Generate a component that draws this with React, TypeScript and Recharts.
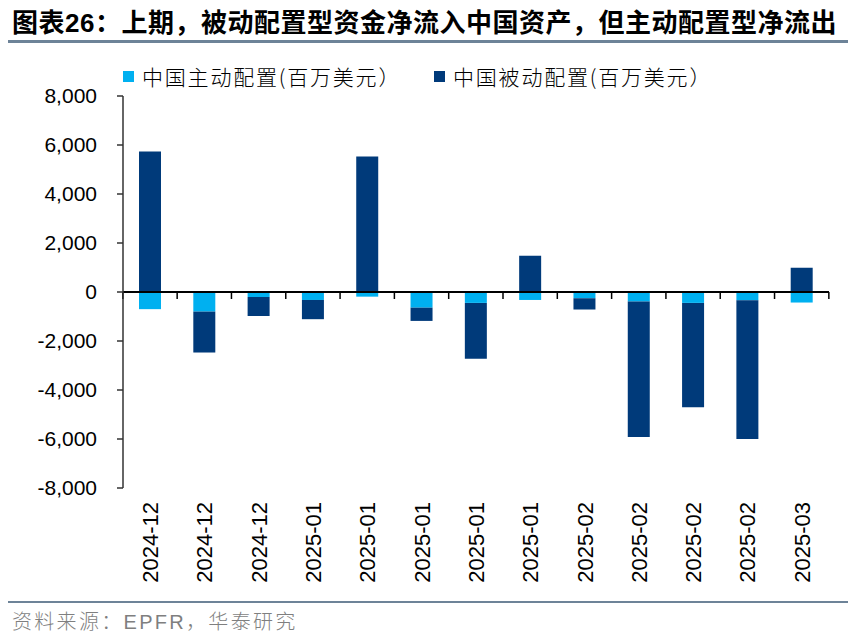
import { BarChart, Bar, XAxis, YAxis, ReferenceLine, Rectangle } from 'recharts';

// 周度资金流（百万美元）
const categories = [
    '2024-12', '2024-12', '2024-12', '2025-01', '2025-01', '2025-01', '2025-01',
    '2025-01', '2025-02', '2025-02', '2025-02', '2025-02', '2025-03',
];
const activeFlow = [-700, -800, -200, -325, -190, -640, -445, -325, -255, -390, -445, -340, -430];
const passiveFlow = [5730, -1670, -775, -785, 5530, -540, -2275, 1480, -460, -5530, -4255, -5660, 990];
const yTicks = [-8000, -6000, -4000, -2000, 0, 2000, 4000, 6000, 8000];
const seriesNames = ['中国主动配置(百万美元）', '中国被动配置(百万美元）'];
const seriesColors = ['#00B0F0', '#003A7A'];

const data = categories.map((c, i) => ({
    key: i,
    active: activeFlow[i],
    passive: passiveFlow[i],
}));

const W = 861;
const H = 643;
const MARGIN = { top: 96, right: 32, bottom: 0, left: 0 };
const Y_AXIS_W = 123;
const BAND = (W - MARGIN.right - MARGIN.left - Y_AXIS_W) / categories.length;

const CJK = '"Liberation Sans", "Noto Sans CJK SC", sans-serif';

const XTick = ({ x, y, payload }: any) => (
    <text
        x={x}
        y={y}
        transform={`rotate(-90 ${x} ${y})`}
        textAnchor="end"
        dy="0.36em"
        fontSize={22}
        fontFamily='"Liberation Sans", Arial, sans-serif'
        fill="#000"
    >
        {categories[payload.value]}
    </text>
);

// 主动配置柱都在零轴下方，顺便在零轴上画出类别分隔刻度
const ActiveBar = (props: any) => {
    const { x, y, width, height, index } = props;
    const zeroY = Math.min(y, y + height);
    const left = x + width / 2 - BAND / 2;
    return (
        <g>
            <Rectangle {...props} />
            <line x1={left} y1={zeroY} x2={left} y2={zeroY + 7} stroke="#000" strokeWidth={1.5} />
            {index === categories.length - 1 && (
                <line x1={left + BAND} y1={zeroY} x2={left + BAND} y2={zeroY + 7} stroke="#000" strokeWidth={1.5} />
            )}
        </g>
    );
};

export default function App() {
    return (
        <div style={{ position: 'absolute', left: 0, top: 0, width: W, height: H, background: '#fff', fontFamily: CJK }}>
            <div style={{ position: 'absolute', left: 12, top: 7, fontSize: 26, letterSpacing: 0.5, fontWeight: 'bold', color: '#000', whiteSpace: 'nowrap', lineHeight: '32px' }}>
                图表26：上期，被动配置型资金净流入中国资产，但主动配置型净流出
            </div>
            <div style={{ position: 'absolute', left: 8, top: 40, width: 840, height: 3, background: '#6D8398' }} />

            {seriesNames.map((n, i) => (
                <div key={n} style={{ position: 'absolute', left: [123, 434][i], top: 62, display: 'flex', alignItems: 'center', whiteSpace: 'nowrap' }}>
                    <span style={{ width: 11, height: 11, background: seriesColors[i], marginRight: 8, display: 'inline-block' }} />
                    <span style={{ fontSize: 21, letterSpacing: 1.8, color: '#000', fontFamily: '"Noto Sans CJK SC", sans-serif', fontWeight: 300, lineHeight: '28px' }}>{n}</span>
                </div>
            ))}

            <div style={{ position: 'absolute', left: 0, top: 0 }}>
                <BarChart width={W} height={H} data={data} stackOffset="sign" margin={MARGIN}>
                    <XAxis
                        dataKey="key"
                        type="category"
                        height={H - 488}
                        axisLine={false}
                        tickLine={false}
                        tickSize={0}
                        tickMargin={14}
                        interval={0}
                        tick={<XTick />}
                    />
                    <YAxis
                        width={Y_AXIS_W}
                        domain={[-8000, 8000]}
                        ticks={yTicks}
                        allowDataOverflow
                        tickFormatter={(v: number) => v.toLocaleString('en-US')}
                        tick={{ fontSize: 21, fill: '#000', fontFamily: '"Liberation Sans", Arial, sans-serif' }}
                        tickSize={6}
                        tickMargin={20}
                        axisLine={{ stroke: '#333', strokeWidth: 1.5 }}
                        tickLine={{ stroke: '#333', strokeWidth: 1.5 }}
                    />
                    <Bar dataKey="active" stackId="a" fill={seriesColors[0]} barSize={22} shape={ActiveBar} isAnimationActive={false} />
                    <Bar dataKey="passive" stackId="a" fill={seriesColors[1]} barSize={22} isAnimationActive={false} />
                    <ReferenceLine y={0} stroke="#000" strokeWidth={2} />
                </BarChart>
            </div>

            <div style={{ position: 'absolute', left: 8, top: 601, width: 840, height: 2, background: '#6D8398' }} />
            <div style={{ position: 'absolute', left: 12, top: 608, fontSize: 20, letterSpacing: 2.3, color: '#7F7F7F', whiteSpace: 'nowrap', lineHeight: '28px', fontFamily: '"Liberation Sans", "Noto Sans CJK SC", sans-serif', fontWeight: 300 }}>
                资料来源：EPFR，华泰研究
            </div>
        </div>
    );
}
